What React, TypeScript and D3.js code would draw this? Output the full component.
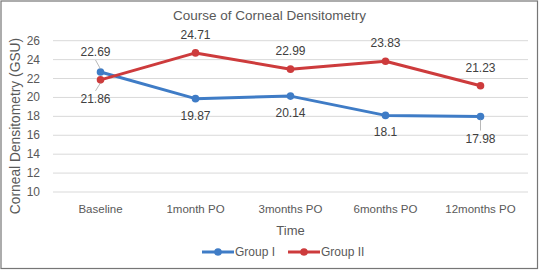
import React from "react";
import * as d3 from "d3";

const categories = ["Baseline", "1month PO", "3months PO", "6months PO", "12months PO"];
const groupI = [22.69, 19.87, 20.14, 18.1, 17.98];
const groupII = [21.86, 24.71, 22.99, 23.83, 21.23];
const groupILabels = ["22.69", "19.87", "20.14", "18.1", "17.98"];
const groupIILabels = ["21.86", "24.71", "22.99", "23.83", "21.23"];
const yTicks = [10, 12, 14, 16, 18, 20, 22, 24, 26];
const seriesNames = ["Group I", "Group II"];

const W = 539;
const H = 270;
const FONT = "'Liberation Sans', Arial, sans-serif";
const BLUE = "#3F7CC6";
const RED = "#CD3B3C";
const TEXT = "#595959";

export default function App() {
  const left = 53;
  const right = 528;
  const top = 40.7;
  const bottom = 192;
  const x = d3.scalePoint<string>().domain(categories).range([left, right]).padding(0.5);
  const y = d3.scaleLinear().domain([10, 26]).range([bottom, top]);
  const line = d3
    .line<number>()
    .x((_, i) => x(categories[i]) as number)
    .y((d) => y(d));

  const series = [
    { name: seriesNames[0], values: groupI, labels: groupILabels, color: BLUE, other: groupII },
    { name: seriesNames[1], values: groupII, labels: groupIILabels, color: RED, other: groupI },
  ];

  const labelEls: React.ReactNode[] = [];
  series.forEach((s, si) => {
    s.values.forEach((v, i) => {
      const px = x(categories[i]) as number;
      const py = y(v);
      const above = v > s.other[i];
      const close = Math.abs(v - s.other[i]) < 1.5;
      let dy = above ? -18 : 17;
      let dx = 0;
      let leader = false;
      if (close) {
        dy = above ? -20 : 19;
        dx = -5;
        leader = true;
      } else if (si === 0 && i === categories.length - 1) {
        dy = 22;
        leader = true;
      }
      labelEls.push(
        <g key={`l-${si}-${i}`}>
          {leader && (
            <line
              x1={px}
              y1={py + (above ? -3 : 3)}
              x2={px + dx}
              y2={py + dy + (above ? 8 : -8)}
              stroke="#A6A6A6"
              strokeWidth={0.8}
            />
          )}
          <text
            x={px + dx}
            y={py + dy}
            textAnchor="middle"
            dominantBaseline="central"
            fontSize={12}
            fill="#404040"
          >
            {s.labels[i]}
          </text>
        </g>
      );
    });
  });

  return (
    <svg
      width={W}
      height={H}
      style={{ position: "absolute", left: 0, top: 0, background: "#fff" }}
      fontFamily={FONT}
    >
      <rect x={1} y={1} width={W - 2.5} height={H - 2.5} fill="#fff" stroke="#767676" strokeWidth={1.2} />
      <text x={W / 2} y={15} textAnchor="middle" dominantBaseline="central" fontSize={13.5} fill={TEXT}>
        Course of Corneal Densitometry
      </text>
      {yTicks.map((t) => (
        <g key={t}>
          <line x1={left} x2={right} y1={y(t)} y2={y(t)} stroke="#D9D9D9" strokeWidth={1} />
          <text x={40} y={y(t)} textAnchor="end" dominantBaseline="central" fontSize={12} fill={TEXT}>
            {t}
          </text>
        </g>
      ))}
      {categories.map((c) => (
        <text key={c} x={x(c) as number} y={209} textAnchor="middle" dominantBaseline="central" fontSize={11.5} fill={TEXT}>
          {c}
        </text>
      ))}
      <text x={(left + right) / 2} y={230.5} textAnchor="middle" dominantBaseline="central" fontSize={13} fill={TEXT}>
        Time
      </text>
      <text
        transform={`translate(15,126) rotate(-90)`}
        textAnchor="middle"
        dominantBaseline="central"
        fontSize={13.8}
        fill={TEXT}
      >
        Corneal Densitometry (GSU)
      </text>
      {series.map((s) => (
        <g key={s.name}>
          <path d={line(s.values) || ""} fill="none" stroke={s.color} strokeWidth={3} strokeLinejoin="round" />
          {s.values.map((v, i) => (
            <circle key={i} cx={x(categories[i]) as number} cy={y(v)} r={3.8} fill={s.color} />
          ))}
        </g>
      ))}
      {labelEls}
      {series.map((s, si) => {
        const lx = si === 0 ? 202 : 288;
        return (
          <g key={`lg-${s.name}`}>
            <line x1={lx} x2={lx + 32} y1={252} y2={252} stroke={s.color} strokeWidth={3} />
            <circle cx={lx + 16} cy={252} r={3.8} fill={s.color} />
            <text x={lx + 33} y={252} dominantBaseline="central" fontSize={12} fill={TEXT}>
              {s.name}
            </text>
          </g>
        );
      })}
    </svg>
  );
}
